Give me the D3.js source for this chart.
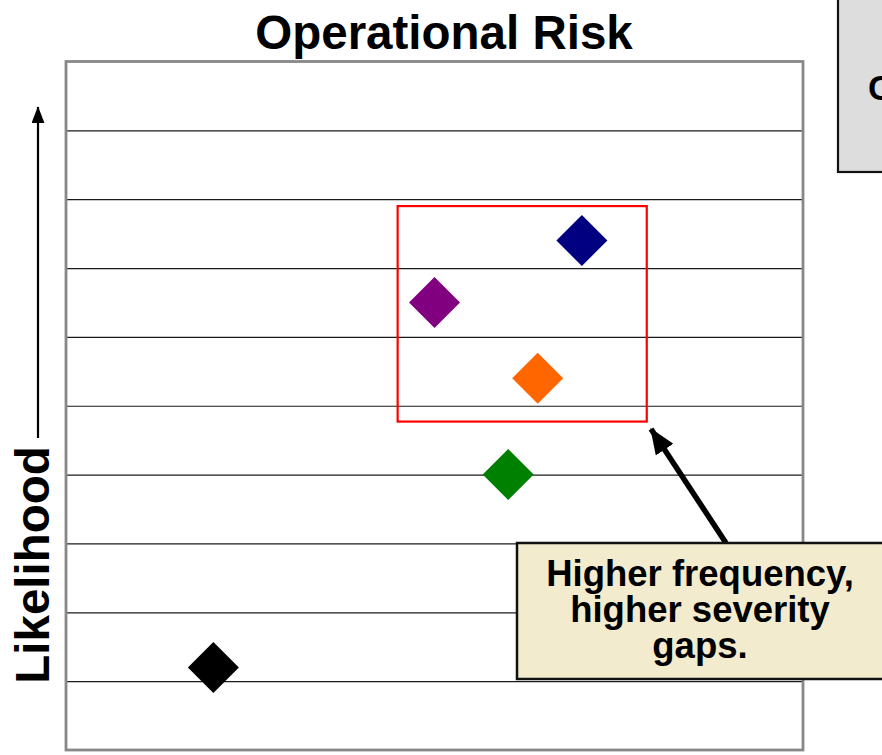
<!DOCTYPE html>
<html>
<head>
<meta charset="utf-8">
<script src="https://cdn.jsdelivr.net/npm/d3@7"></script>
<style>
  html, body { margin: 0; padding: 0; background: #fff; }
  svg { display: block; font-family: "Liberation Sans", Arial, Helvetica, sans-serif; }
</style>
</head>
<body>
<svg id="chart" width="882" height="755"></svg>
<script>
// Risk items: severity (x) and likelihood (y) on a 0–10 scale
const itemNames  = ["Item A", "Item B", "Item C", "Item D", "Item E"];
const severity   = [2.0, 7.0, 5.0, 6.4, 6.0];
const likelihood = [1.2, 7.4, 6.5, 5.4, 4.0];
const itemColors = ["#000000", "#000080", "#800080", "#ff6600", "#008000"];

// Likelihood bands drawn as gridlines
const gridValues = [1, 2, 3, 4, 5, 6, 7, 8, 9];

// Highlighted zone: [xMin, xMax] and [yMin, yMax]
const zoneX = [4.5, 7.88];
const zoneY = [4.77, 7.9];

const titleText   = "Operational Risk";
const yLabelText  = "Likelihood";
const calloutText = ["Higher frequency,", "higher severity", "gaps."];

const svg = d3.select("#chart");
const plot = { left: 66, right: 803, top: 61.5, bottom: 750 };

const x = d3.scaleLinear().domain([0, 10]).range([plot.left, plot.right]);
const y = d3.scaleLinear().domain([0, 10]).range([plot.bottom, plot.top]);

// defs: arrowheads
const defs = svg.append("defs");
function arrowHead(id, len, wid) {
  defs.append("marker")
    .attr("id", id).attr("viewBox", "0 0 10 10")
    .attr("preserveAspectRatio", "none")
    .attr("refX", 9.5).attr("refY", 5)
    .attr("markerWidth", len).attr("markerHeight", wid)
    .attr("markerUnits", "userSpaceOnUse").attr("orient", "auto")
    .append("path").attr("d", "M0,0 L10,5 L0,10 Z").attr("fill", "#000");
}
arrowHead("headSmall", 17, 13);
arrowHead("headBig", 26, 21);

// Title
svg.append("text")
  .attr("x", 444).attr("y", 49)
  .attr("text-anchor", "middle")
  .attr("font-size", 47.5).attr("font-weight", "bold")
  .text(titleText);

// Gridlines
const grid = svg.append("g")
  .attr("transform", `translate(${plot.left},0)`)
  .call(d3.axisLeft(y).tickValues(gridValues)
    .tickSize(-(plot.right - plot.left)).tickFormat(""));
grid.select(".domain").remove();
grid.selectAll(".tick line").attr("stroke", "#1a1a1a").attr("stroke-width", 1.2);

// Plot frame
svg.append("rect")
  .attr("x", plot.left).attr("y", plot.top)
  .attr("width", plot.right - plot.left).attr("height", plot.bottom - plot.top)
  .attr("fill", "none").attr("stroke", "#888888").attr("stroke-width", 2.8);

// Highlighted zone
svg.append("rect")
  .attr("x", x(zoneX[0])).attr("y", y(zoneY[1]))
  .attr("width", x(zoneX[1]) - x(zoneX[0]))
  .attr("height", y(zoneY[0]) - y(zoneY[1]))
  .attr("fill", "none").attr("stroke", "#ff0000").attr("stroke-width", 2.2);

// Diamond markers
const diamond = d3.symbol().type(d3.symbolSquare).size(1300);
svg.append("g").selectAll("path")
  .data(itemNames.map((n, i) => ({ name: n, sx: severity[i], ly: likelihood[i], c: itemColors[i] })))
  .join("path")
  .attr("d", diamond)
  .attr("transform", d => `translate(${x(d.sx)},${y(d.ly)}) rotate(45)`)
  .attr("fill", d => d.c);

// Y axis label with upward arrow
svg.append("text")
  .attr("transform", "translate(49,565) rotate(-90)")
  .attr("text-anchor", "middle")
  .attr("font-size", 47.5).attr("font-weight", "bold")
  .text(yLabelText);
svg.append("line")
  .attr("x1", 38).attr("y1", 438).attr("x2", 38).attr("y2", 107)
  .attr("stroke", "#000").attr("stroke-width", 2.2)
  .attr("marker-end", "url(#headSmall)");

// Pointer from the callout to the highlighted zone
svg.append("line")
  .attr("x1", 726).attr("y1", 543).attr("x2", 651).attr("y2", 429)
  .attr("stroke", "#000").attr("stroke-width", 5.5)
  .attr("marker-end", "url(#headBig)");

// Callout box
svg.append("rect")
  .attr("x", 517).attr("y", 543).attr("width", 370).attr("height", 136)
  .attr("fill", "#f2ebce").attr("stroke", "#111").attr("stroke-width", 2.5);
svg.append("text")
  .attr("text-anchor", "middle")
  .attr("font-size", 36.5).attr("font-weight", "bold")
  .selectAll("tspan").data(calloutText).join("tspan")
  .attr("x", 700).attr("y", (d, i) => 586 + i * 36)
  .text(d => d);

// Side note box (top right)
svg.append("rect")
  .attr("x", 838).attr("y", -5).attr("width", 60).attr("height", 177)
  .attr("fill", "#dddddd").attr("stroke", "#111").attr("stroke-width", 2.2);
svg.append("text")
  .attr("x", 868).attr("y", 100)
  .attr("font-size", 35).attr("font-weight", "bold")
  .text("C");
</script>
</body>
</html>
